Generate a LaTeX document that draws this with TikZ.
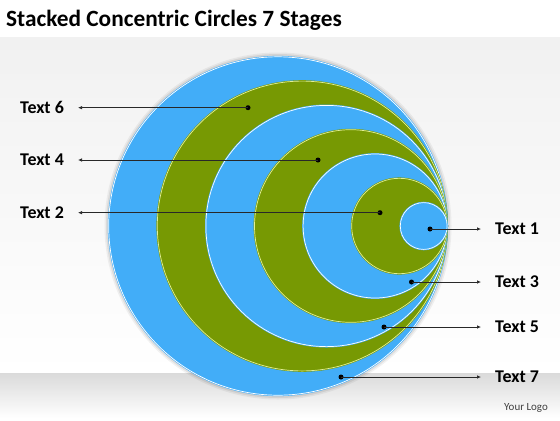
\documentclass[tikz,border=0pt]{standalone}
\usepackage{fontspec}
\setmainfont{Carlito}
\usetikzlibrary{arrows.meta}
\definecolor{cblue}{RGB}{66,173,248}
\definecolor{cgreen}{RGB}{119,153,3}
\definecolor{grimrim}{RGB}{225,238,150}
\definecolor{panel}{RGB}{241,241,241}
\definecolor{band}{RGB}{218,218,218}
\definecolor{linecol}{RGB}{40,40,40}
\tikzset{
  dotnode/.style={circle,fill=black,inner sep=0pt,minimum size=5bp},
  lbl/.style={font=\fontsize{18}{20}\selectfont\bfseries,inner sep=0pt,text=black},
  pointer/.style={draw=linecol,line width=0.7bp,-{Latex[length=4bp,width=3.5bp]}},
}
\begin{document}
\begin{tikzpicture}[x=1bp,y=-1bp]
\useasboundingbox (0,0) rectangle (560,420);
\fill[white] (0,0) rectangle (560,420);
% background panel and bottom band
\shade[top color=panel,bottom color=white] (0,37) rectangle (560,373);
\shade[top color=band,bottom color=white] (0,373) rectangle (560,418);
% title
\node[anchor=base west,inner sep=0pt,font=\fontsize{23.4}{27}\selectfont\bfseries] (title) at (6,26.5) {Stacked Concentric Circles 7 Stages};
% shadow of the outer circle
\fill[black,opacity=0.05] (278,226) circle[radius=173.5bp];
\fill[black,opacity=0.07] (278,226) circle[radius=172bp];
% stacked circles, all tangent at (448,226)
\foreach \k/\col/\rim in {7/cblue/white,6/cgreen/grimrim,5/cblue/white,4/cgreen/grimrim,3/cblue/white,2/cgreen/grimrim,1/cblue/white}{
  \pgfmathsetmacro{\r}{24.3*\k}
  \pgfmathsetmacro{\cx}{448-\r}
  \fill[\col] (\cx,226) circle[radius=\r bp];
  \draw[\rim,line width=0.7bp] (\cx,226) circle[radius=\r bp-0.9bp];
}
% dots
\node[dotnode] (d6) at (248,107.7) {};
\node[dotnode] (d4) at (318,160) {};
\node[dotnode] (d2) at (380,212.7) {};
\node[dotnode] (d1) at (430,229) {};
\node[dotnode] (d3) at (411.5,282) {};
\node[dotnode] (d5) at (384,327) {};
\node[dotnode] (d7) at (341,377) {};
% labels
\node[lbl,anchor=base west] (t6) at (20,113.4) {Text 6};
\node[lbl,anchor=base west] (t4) at (20,165.7) {Text 4};
\node[lbl,anchor=base west] (t2) at (20,218.4) {Text 2};
\node[lbl,anchor=base west] (t1) at (495,234.7) {Text 1};
\node[lbl,anchor=base west] (t3) at (495,287.7) {Text 3};
\node[lbl,anchor=base west] (t5) at (495,332.7) {Text 5};
\node[lbl,anchor=base west] (t7) at (495,382.7) {Text 7};
% pointers
\draw[pointer] (d6.center) -- (78,107.7);
\draw[pointer] (d4.center) -- (78,160);
\draw[pointer] (d2.center) -- (78,212.7);
\draw[pointer] (d1.center) -- (481,229);
\draw[pointer] (d3.center) -- (481,282);
\draw[pointer] (d5.center) -- (481,327);
\draw[pointer] (d7.center) -- (481,377);
% logo
\node[anchor=base east,inner sep=0pt,font=\fontsize{11}{13}\selectfont,text=black!75] (logo) at (548,410) {Your Logo};
\end{tikzpicture}
\end{document}
